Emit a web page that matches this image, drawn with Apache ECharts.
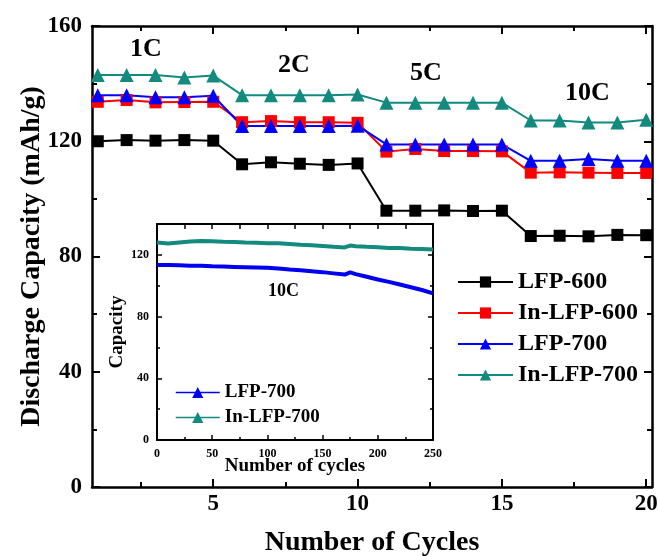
<!DOCTYPE html>
<html>
<head>
<meta charset="utf-8">
<script src="https://cdn.jsdelivr.net/npm/echarts@6/dist/echarts.min.js"></script>
<style>
  html, body { margin: 0; padding: 0; background: #fff; }
  #chart { width: 658px; height: 556px; }
</style>
</head>
<body>
<div id="chart"></div>
<script>
// rate test: cycles 1-20 at 1C, 2C, 5C, 10C
const cycles = [1, 2, 3, 4, 5, 6, 7, 8, 9, 10, 11, 12, 13, 14, 15, 16, 17, 18, 19, 20];
const lfp600 = [120, 120.4, 120.2, 120.4, 120.2, 112, 112.7, 112.2, 111.8, 112.3, 95.9, 95.9, 96, 95.8, 95.9, 87.1, 87.2, 87, 87.5, 87.4];
const inLfp600 = [133.7, 134.3, 133.5, 133.6, 133.7, 126.6, 127, 126.6, 126.6, 126.4, 116.4, 117.3, 116.6, 116.6, 116.5, 109.1, 109.2, 109.1, 109, 109];
const lfp700 = [136, 136, 135.3, 135.3, 135.8, 125.3, 125.3, 125.3, 125.3, 125.4, 118.9, 118.9, 118.9, 118.9, 118.9, 113.2, 113.2, 113.8, 113.2, 113.2];
const inLfp700 = [143, 143, 143, 142.1, 142.8, 136, 136, 136, 136, 136.2, 133.4, 133.4, 133.4, 133.4, 133.4, 127.2, 127.2, 126.5, 126.5, 127.5];
const rateLabels = ["1C", "2C", "5C", "10C"];

// inset: long cycling at 10C
const insetCycles = [0, 10, 20, 30, 40, 50, 60, 70, 80, 90, 100, 110, 120, 130, 140, 150, 160, 170, 175, 180, 190, 200, 210, 220, 230, 240, 250];
const insetLfp700 = [113.5, 113.4, 113.2, 113, 113, 112.6, 112.4, 112.2, 112, 111.8, 111.6, 111.2, 110.5, 110, 109.4, 108.8, 108, 107.2, 108.6, 107.5, 105.8, 104, 102.5, 100.8, 99, 97.2, 95];
const insetInLfp700 = [128, 127.4, 128, 128.6, 129, 128.8, 128.5, 128.3, 128, 127.8, 127.6, 127.5, 127, 126.5, 126.2, 125.8, 125.2, 124.8, 126, 125.6, 125.2, 125, 124.5, 124.5, 124, 123.8, 123.5];

const mainTicks = [5, 10, 15, 20];
const mainMinorTicks = [2.5, 7.5, 12.5, 17.5];

const FONT = "Liberation Serif";
const TEAL = "#138a7e";

const pairs = (xs, ys) => xs.map((x, i) => [x, ys[i]]);

const chart = echarts.init(document.getElementById("chart"));

// onZero off so the mirrored top/right axes stay where they are put
const axisLine = { show: true, onZero: false, lineStyle: { color: "#000", width: 2.5 } };
const noLine = { show: false, onZero: false };
const tickStyle = { color: "#000", width: 2 };
const insetLine = { show: true, onZero: false, lineStyle: { color: "#000", width: 2 } };
const insetTick = { color: "#000", width: 1.5 };

function mainSeries(name, data, symbol, color, size) {
  return {
    name: name,
    type: "line",
    xAxisIndex: 0,
    yAxisIndex: 0,
    data: pairs(cycles, data),
    symbol: symbol,
    symbolSize: size,
    color: color,
    lineStyle: { width: 2, color: color },
    itemStyle: { color: color },
    animation: false
  };
}

function insetSeries(name, data, color) {
  return {
    name: name,
    type: "line",
    xAxisIndex: 4,
    yAxisIndex: 2,
    data: pairs(insetCycles, data),
    symbol: "triangle",
    symbolSize: 14,
    showSymbol: false,
    color: color,
    lineStyle: { width: 4, color: color },
    itemStyle: { color: color },
    animation: false
  };
}

const insetNames = { "inset LFP-700": "LFP-700", "inset In-LFP-700": "In-LFP-700" };

chart.setOption({
  backgroundColor: "#fff",
  textStyle: { fontFamily: FONT, fontWeight: "bold", color: "#000" },
  grid: [
    { left: 92, right: 6, top: 26, bottom: 69, outerBoundsMode: "none" },
    { left: 157, right: 225, top: 224, bottom: 116, outerBoundsMode: "none" }
  ],
  legend: [
    {
      data: ["LFP-600", "In-LFP-600", "LFP-700", "In-LFP-700"],
      orient: "vertical",
      left: 452,
      top: 265,
      itemWidth: 55,
      itemHeight: 14,
      itemGap: 7,
      selectedMode: false,
      textStyle: { fontFamily: FONT, fontWeight: "bold", fontSize: 24, color: "#000", lineHeight: 23 }
    },
    {
      data: ["inset LFP-700", "inset In-LFP-700"],
      orient: "vertical",
      left: 170,
      top: 378,
      itemWidth: 44,
      itemHeight: 14,
      itemGap: 6,
      selectedMode: false,
      lineStyle: { width: 1.5 },
      formatter: name => insetNames[name],
      textStyle: { fontFamily: FONT, fontWeight: "bold", fontSize: 19, color: "#000", lineHeight: 19 }
    }
  ],
  xAxis: [
    {
      gridIndex: 0, type: "value", position: "bottom", min: 0.8, max: 20.2,
      axisLine: axisLine,
      axisTick: { show: true, inside: true, length: 8, customValues: mainTicks, lineStyle: tickStyle },
      axisLabel: { customValues: mainTicks, fontFamily: FONT, fontWeight: "bold", fontSize: 23, color: "#000", margin: 6 },
      splitLine: { show: false },
      name: "Number of Cycles", nameLocation: "middle", nameGap: 42, nameMoveOverlap: false,
      nameTextStyle: { fontFamily: FONT, fontWeight: "bold", fontSize: 28, color: "#000" }
    },
    {
      gridIndex: 0, type: "value", position: "bottom", min: 0.8, max: 20.2,
      axisLine: noLine,
      axisTick: { show: true, inside: true, length: 5, customValues: mainMinorTicks, lineStyle: tickStyle },
      axisLabel: { show: false }, splitLine: { show: false }
    },
    {
      gridIndex: 0, type: "value", position: "top", min: 0.8, max: 20.2,
      axisLine: axisLine,
      axisTick: { show: true, inside: true, length: 8, customValues: mainTicks, lineStyle: tickStyle },
      axisLabel: { show: false }, splitLine: { show: false }
    },
    {
      gridIndex: 0, type: "value", position: "top", min: 0.8, max: 20.2,
      axisLine: noLine,
      axisTick: { show: true, inside: true, length: 5, customValues: mainMinorTicks, lineStyle: tickStyle },
      axisLabel: { show: false }, splitLine: { show: false }
    },
    {
      gridIndex: 1, type: "value", position: "bottom", min: 0, max: 250, interval: 50,
      axisLine: insetLine,
      axisTick: { show: true, inside: true, length: 5, lineStyle: insetTick },
      minorTick: { show: true, splitNumber: 2, length: 3, lineStyle: insetTick },
      axisLabel: { fontFamily: FONT, fontWeight: "bold", fontSize: 12, color: "#000", margin: 8 },
      splitLine: { show: false },
      name: "Number of cycles", nameLocation: "middle", nameGap: 17, nameMoveOverlap: false,
      nameTextStyle: { fontFamily: FONT, fontWeight: "bold", fontSize: 19, color: "#000" }
    },
    {
      gridIndex: 1, type: "value", position: "top", min: 0, max: 250, interval: 25,
      axisLine: insetLine,
      axisTick: { show: true, inside: true, length: 5, lineStyle: insetTick },
      axisLabel: { show: false }, splitLine: { show: false }
    }
  ],
  yAxis: [
    {
      gridIndex: 0, type: "value", position: "left", min: 0, max: 160, interval: 40,
      axisLine: axisLine,
      axisTick: { show: true, inside: true, length: 8, lineStyle: tickStyle },
      minorTick: { show: true, splitNumber: 2, length: 5, lineStyle: tickStyle },
      axisLabel: { fontFamily: FONT, fontWeight: "bold", fontSize: 23, color: "#000", margin: 10 },
      splitLine: { show: false },
      name: "Discharge Capacity (mAh/g)", nameLocation: "middle", nameGap: 46, nameMoveOverlap: false,
      nameTextStyle: { fontFamily: FONT, fontWeight: "bold", fontSize: 28, color: "#000" }
    },
    {
      gridIndex: 0, type: "value", position: "right", min: 0, max: 160, interval: 40,
      axisLine: axisLine,
      axisTick: { show: true, inside: true, length: 8, lineStyle: tickStyle },
      minorTick: { show: true, splitNumber: 2, length: 5, lineStyle: tickStyle },
      axisLabel: { show: false }, splitLine: { show: false }
    },
    {
      gridIndex: 1, type: "value", position: "left", min: 0, max: 140, interval: 40,
      axisLine: insetLine,
      axisTick: { show: true, inside: true, length: 5, lineStyle: insetTick },
      minorTick: { show: true, splitNumber: 2, length: 3, lineStyle: insetTick },
      axisLabel: { showMaxLabel: false, fontFamily: FONT, fontWeight: "bold", fontSize: 12, color: "#000", margin: 8 },
      splitLine: { show: false },
      name: "Capacity", nameLocation: "middle", nameGap: 30, nameMoveOverlap: false,
      nameTextStyle: { fontFamily: FONT, fontWeight: "bold", fontSize: 19, color: "#000" }
    },
    {
      gridIndex: 1, type: "value", position: "right", min: 0, max: 140, interval: 40,
      axisLine: insetLine,
      axisTick: { show: true, inside: true, length: 5, lineStyle: insetTick },
      minorTick: { show: true, splitNumber: 2, length: 3, lineStyle: insetTick },
      axisLabel: { show: false }, splitLine: { show: false }
    }
  ],
  graphic: [
    { type: "text", left: 130, top: 36, style: { text: rateLabels[0], font: "bold 26px " + FONT, fill: "#000" } },
    { type: "text", left: 278, top: 52, style: { text: rateLabels[1], font: "bold 26px " + FONT, fill: "#000" } },
    { type: "text", left: 410, top: 60, style: { text: rateLabels[2], font: "bold 26px " + FONT, fill: "#000" } },
    { type: "text", left: 565, top: 80, style: { text: rateLabels[3], font: "bold 26px " + FONT, fill: "#000" } },
    { type: "text", left: 268, top: 282, style: { text: rateLabels[3], font: "bold 18px " + FONT, fill: "#000" } }
  ],
  series: [
    mainSeries("LFP-600", lfp600, "rect", "#000000", 12),
    mainSeries("In-LFP-600", inLfp600, "rect", "#ff0000", 12),
    mainSeries("LFP-700", lfp700, "triangle", "#0000ff", 14),
    mainSeries("In-LFP-700", inLfp700, "triangle", TEAL, 14),
    insetSeries("inset LFP-700", insetLfp700, "#0000ee"),
    insetSeries("inset In-LFP-700", insetInLfp700, TEAL)
  ]
});
</script>
</body>
</html>
